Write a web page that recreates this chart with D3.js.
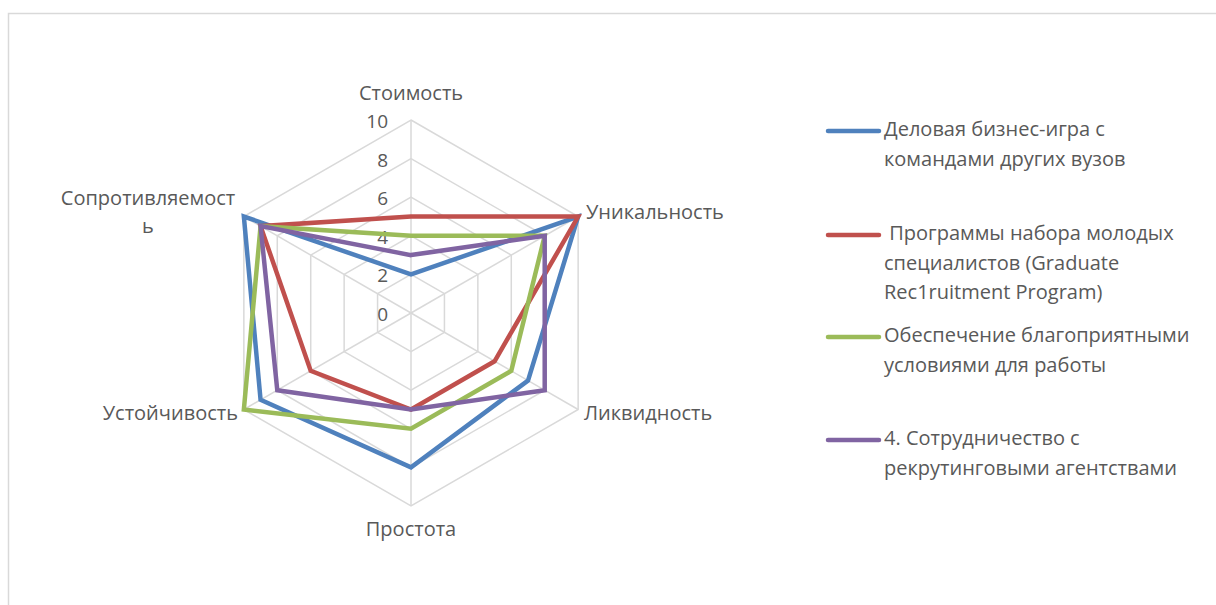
<!DOCTYPE html>
<meta charset="utf-8">
<script src="https://d3js.org/d3.v7.min.js"></script>
<style>
  body { margin: 0; background: #fff; }
  text { font-family: "Open Sans", sans-serif; fill: #595959; }
</style>
<div id="my_dataviz"></div>
<script>

// axes, clockwise from the top
var axes = ["Стоимость", "Уникальность", "Ликвидность", "Простота", "Устойчивость", "Сопротивляемость"];
var ticks = [0, 2, 4, 6, 8, 10];

// series values, one per axis
var delovaya = [2, 10, 7, 8, 9, 10];
var programmy = [5, 10, 5, 5, 6, 9];
var obespechenie = [4, 8, 6, 6, 10, 9];
var sotrudnichestvo = [3, 8, 8, 5, 8, 9];

var seriesNames = [
  ["Деловая бизнес-игра с", "командами других вузов"],
  [" Программы набора молодых", "специалистов (Graduate", "Rec1ruitment Program)"],
  ["Обеспечение благоприятными", "условиями для работы"],
  ["4. Сотрудничество с", "рекрутинговыми агентствами"]
];
var seriesValues = [delovaya, programmy, obespechenie, sotrudnichestvo];
var colors = ["#4f81bd", "#c0504d", "#9bbb59", "#8064a2"];

var width = 1216, height = 605;
var cx = 411, cy = 313, R = 193;

var svg = d3.select("#my_dataviz")
  .append("svg")
    .attr("width", width)
    .attr("height", height);

// chart area border
svg.append("rect")
  .attr("x", 8.5).attr("y", 13.5)
  .attr("width", width).attr("height", height)
  .style("fill", "none")
  .style("stroke", "#d9d9d9")
  .style("stroke-width", 1.5);

var g = svg.append("g").attr("transform", "translate(" + cx + "," + cy + ")");

var r = d3.scaleLinear().domain([0, 10]).range([0, R]);
var angle = d3.scalePoint().domain(axes).range([0, 2 * Math.PI * 5 / 6]);

// grid hexagons
var gridLine = d3.lineRadial()
  .angle(function(d) { return angle(d[0]); })
  .radius(function(d) { return r(d[1]); })
  .curve(d3.curveLinearClosed);

g.selectAll(".grid")
  .data(ticks.slice(1))
  .enter().append("path")
    .attr("d", function(t) { return gridLine(axes.map(function(a) { return [a, t]; })); })
    .style("fill", "none")
    .style("stroke", "#d9d9d9")
    .style("stroke-width", 1.5);

// spokes
g.selectAll(".spoke")
  .data(axes)
  .enter().append("line")
    .attr("x1", 0).attr("y1", 0)
    .attr("x2", function(a) { return r(10) * Math.sin(angle(a)); })
    .attr("y2", function(a) { return -r(10) * Math.cos(angle(a)); })
    .style("stroke", "#d9d9d9")
    .style("stroke-width", 1.5);

// tick labels
g.selectAll(".tick")
  .data(ticks)
  .enter().append("text")
    .attr("x", -23)
    .attr("y", function(t) { return -r(t) + 3; })
    .attr("text-anchor", "end")
    .attr("dominant-baseline", "middle")
    .style("font-size", "19px")
    .text(function(t) { return t; });

// series lines
seriesValues.forEach(function(vals, i) {
  g.append("path")
    .datum(vals)
    .attr("d", gridLine(axes.map(function(a, k) { return [a, vals[k]]; })))
    .style("fill", "none")
    .style("stroke", colors[i])
    .style("stroke-width", 4.5)
    .style("stroke-linejoin", "miter");
});

// axis labels
var labelPos = [
  {x: 0, y: -218, anchor: "middle", lines: ["Стоимость"]},
  {x: 175, y: -99, anchor: "start", lines: ["Уникальность"]},
  {x: 173, y: 102, anchor: "start", lines: ["Ликвидность"]},
  {x: 0, y: 218, anchor: "middle", lines: ["Простота"]},
  {x: -173, y: 102, anchor: "end", lines: ["Устойчивость"]},
  {x: -263, y: -113, anchor: "middle", lines: ["Сопротивляемост", "ь"]}
];
labelPos.forEach(function(p) {
  var t = g.append("text")
    .attr("text-anchor", p.anchor)
    .style("font-size", "20px");
  p.lines.forEach(function(l, k) {
    t.append("tspan")
      .attr("x", p.x)
      .attr("y", p.y + k * 28)
      .attr("dominant-baseline", "middle")
      .text(l);
  });
});

// legend
var legendY = [131, 235, 337, 440];
seriesNames.forEach(function(lines, i) {
  svg.append("line")
    .attr("x1", 828).attr("x2", 879)
    .attr("y1", legendY[i]).attr("y2", legendY[i])
    .style("stroke", colors[i])
    .style("stroke-width", 4.5)
    .style("stroke-linecap", "round");
  var t = svg.append("text").style("font-size", "20px");
  lines.forEach(function(l, k) {
    t.append("tspan")
      .attr("x", 884)
      .attr("y", legendY[i] + k * 29.5)
      .attr("dominant-baseline", "middle")
      .style("white-space", "pre")
      .text(l);
  });
});

</script>
